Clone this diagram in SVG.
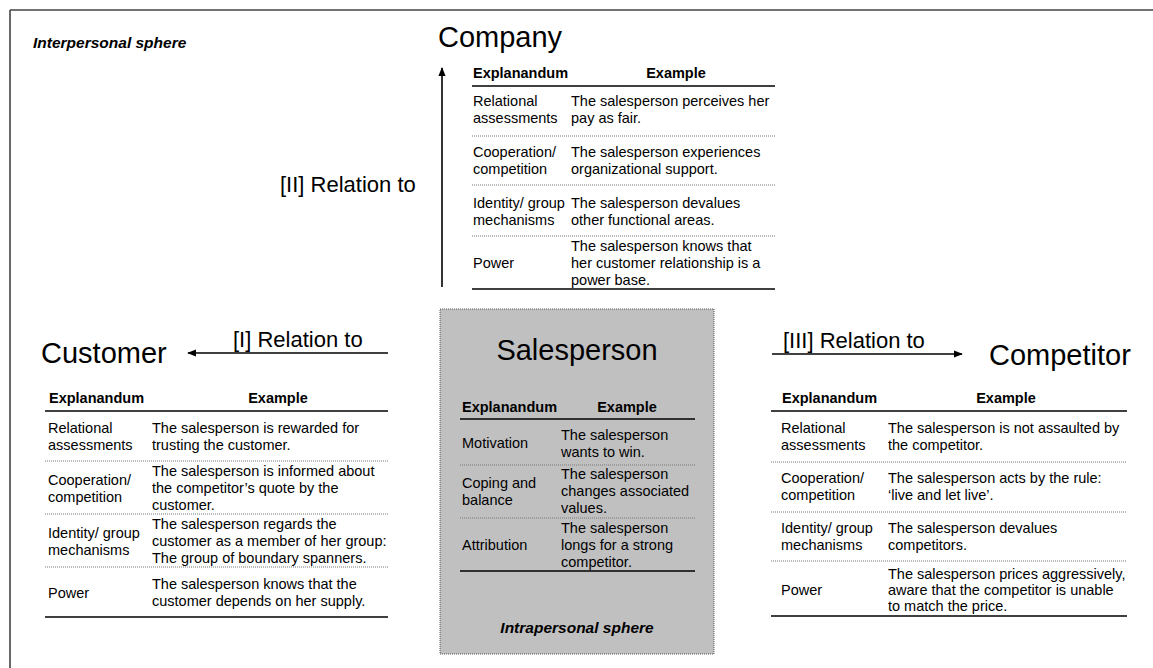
<svg xmlns="http://www.w3.org/2000/svg" width="1153" height="668" viewBox="0 0 1153 668">
<defs>
<style>
text{font-family:"Liberation Sans",Arial,sans-serif;fill:#000}
.t{font-size:14.5px}
.h{font-size:14.5px;font-weight:bold}
.big{font-size:29px}
.rel{font-size:22px}
.sph{font-size:15.5px;font-weight:bold;font-style:italic}
.mid{text-anchor:middle}
.rule{stroke:#000;stroke-width:1.6}
.dot{stroke:#777;stroke-width:1;stroke-dasharray:1 1}
.arr{stroke:#000;stroke-width:1.6;fill:none;marker-end:url(#ah)}
</style>
<marker id="ah" viewBox="0 0 10 8" refX="9" refY="4" markerWidth="6" markerHeight="4.5" orient="auto" markerUnits="strokeWidth">
<path d="M0,0 L10,4 L0,8 Z" fill="#000"/>
</marker>
</defs>
<rect width="1153" height="668" fill="#fff"/>
<g id="frame">
<path d="M10,10 H1153 M10,10 V668" stroke="#444" stroke-width="1.6" fill="none"/>
<text class="sph" x="33" y="48">Interpersonal sphere</text>
</g>

<g id="connectors">
<line class="arr" x1="442" y1="287" x2="442" y2="68"/>
<line class="arr" x1="388" y1="353" x2="188" y2="353"/>
<line class="arr" x1="772" y1="354" x2="962" y2="354"/>
<text class="rel" x="280" y="192">[II] Relation to</text>
<text class="rel" x="233" y="347">[I] Relation to</text>
<text class="rel" x="783" y="348">[III] Relation to</text>
</g>

<g id="company">
<text class="big" x="438" y="47">Company</text>
<text class="h" x="473" y="78">Explanandum</text>
<text class="h mid" x="676" y="78">Example</text>
<line class="rule" x1="472" y1="86" x2="775" y2="86"/>
<text class="t" x="473" y="106">Relational</text>
<text class="t" x="473" y="123">assessments</text>
<text class="t" x="571" y="106">The salesperson perceives her</text>
<text class="t" x="571" y="123">pay as fair.</text>
<line class="dot" x1="472" y1="136" x2="775" y2="136"/>
<text class="t" x="473" y="157">Cooperation/</text>
<text class="t" x="473" y="174">competition</text>
<text class="t" x="571" y="157">The salesperson experiences</text>
<text class="t" x="571" y="174">organizational support.</text>
<line class="dot" x1="472" y1="185" x2="775" y2="185"/>
<text class="t" x="473" y="208">Identity/ group</text>
<text class="t" x="473" y="225">mechanisms</text>
<text class="t" x="571" y="208">The salesperson devalues</text>
<text class="t" x="571" y="225">other functional areas.</text>
<line class="dot" x1="472" y1="236" x2="775" y2="236"/>
<text class="t" x="473" y="268">Power</text>
<text class="t" x="571" y="251">The salesperson knows that</text>
<text class="t" x="571" y="268">her customer relationship is a</text>
<text class="t" x="571" y="285">power base.</text>
<line class="rule" x1="472" y1="289" x2="775" y2="289"/>
</g>

<g id="customer">
<text class="big" x="41" y="363">Customer</text>
<text class="h" x="49" y="403">Explanandum</text>
<text class="h mid" x="278" y="403">Example</text>
<line class="rule" x1="45" y1="411" x2="388" y2="411"/>
<text class="t" x="48" y="433">Relational</text>
<text class="t" x="48" y="450">assessments</text>
<text class="t" x="152" y="433">The salesperson is rewarded for</text>
<text class="t" x="152" y="450">trusting the customer.</text>
<line class="dot" x1="45" y1="461" x2="388" y2="461"/>
<text class="t" x="48" y="485">Cooperation/</text>
<text class="t" x="48" y="502">competition</text>
<text class="t" x="152" y="476">The salesperson is informed about</text>
<text class="t" x="152" y="493">the competitor’s quote by the</text>
<text class="t" x="152" y="510">customer.</text>
<line class="dot" x1="45" y1="514" x2="388" y2="514"/>
<text class="t" x="48" y="538">Identity/ group</text>
<text class="t" x="48" y="555">mechanisms</text>
<text class="t" x="152" y="529">The salesperson regards the</text>
<text class="t" x="152" y="546">customer as a member of her group:</text>
<text class="t" x="152" y="563">The group of boundary spanners.</text>
<line class="dot" x1="45" y1="567" x2="388" y2="567"/>
<text class="t" x="48" y="598">Power</text>
<text class="t" x="152" y="589">The salesperson knows that the</text>
<text class="t" x="152" y="606">customer depends on her supply.</text>
<line class="rule" x1="45" y1="617" x2="388" y2="617"/>
</g>

<g id="salesperson">
<rect x="440" y="309" width="274" height="345" fill="#c0c0c0" stroke="#555" stroke-width="1" stroke-dasharray="1 1"/>
<text class="big mid" x="577" y="360">Salesperson</text>
<text class="h" x="462" y="412">Explanandum</text>
<text class="h mid" x="627" y="412">Example</text>
<line class="rule" x1="460" y1="419" x2="695" y2="419"/>
<text class="t" x="462" y="448">Motivation</text>
<text class="t" x="561" y="440">The salesperson</text>
<text class="t" x="561" y="457">wants to win.</text>
<line class="dot" x1="460" y1="465" x2="695" y2="465"/>
<text class="t" x="462" y="488">Coping and</text>
<text class="t" x="462" y="505">balance</text>
<text class="t" x="561" y="479">The salesperson</text>
<text class="t" x="561" y="496">changes associated</text>
<text class="t" x="561" y="513">values.</text>
<line class="dot" x1="460" y1="518" x2="695" y2="518"/>
<text class="t" x="462" y="550">Attribution</text>
<text class="t" x="561" y="533">The salesperson</text>
<text class="t" x="561" y="550">longs for a strong</text>
<text class="t" x="561" y="567">competitor.</text>
<line class="rule" x1="460" y1="571" x2="695" y2="571"/>
<text class="sph mid" x="577" y="633">Intrapersonal sphere</text>
</g>

<g id="competitor">
<text class="big" x="989" y="365">Competitor</text>
<text class="h" x="782" y="403">Explanandum</text>
<text class="h mid" x="1006" y="403">Example</text>
<line class="rule" x1="771" y1="411" x2="1127" y2="411"/>
<text class="t" x="781" y="433">Relational</text>
<text class="t" x="781" y="450">assessments</text>
<text class="t" x="888" y="433">The salesperson is not assaulted by</text>
<text class="t" x="888" y="450">the competitor.</text>
<line class="dot" x1="771" y1="462" x2="1127" y2="462"/>
<text class="t" x="781" y="483">Cooperation/</text>
<text class="t" x="781" y="500">competition</text>
<text class="t" x="888" y="483">The salesperson acts by the rule:</text>
<text class="t" x="888" y="500">‘live and let live’.</text>
<line class="dot" x1="771" y1="512" x2="1127" y2="512"/>
<text class="t" x="781" y="533">Identity/ group</text>
<text class="t" x="781" y="550">mechanisms</text>
<text class="t" x="888" y="533">The salesperson devalues</text>
<text class="t" x="888" y="550">competitors.</text>
<line class="dot" x1="771" y1="561" x2="1127" y2="561"/>
<text class="t" x="781" y="595">Power</text>
<text class="t" x="888" y="579">The salesperson prices aggressively,</text>
<text class="t" x="888" y="595">aware that the competitor is unable</text>
<text class="t" x="888" y="611">to match the price.</text>
<line class="rule" x1="771" y1="616" x2="1127" y2="616"/>
</g>
</svg>
